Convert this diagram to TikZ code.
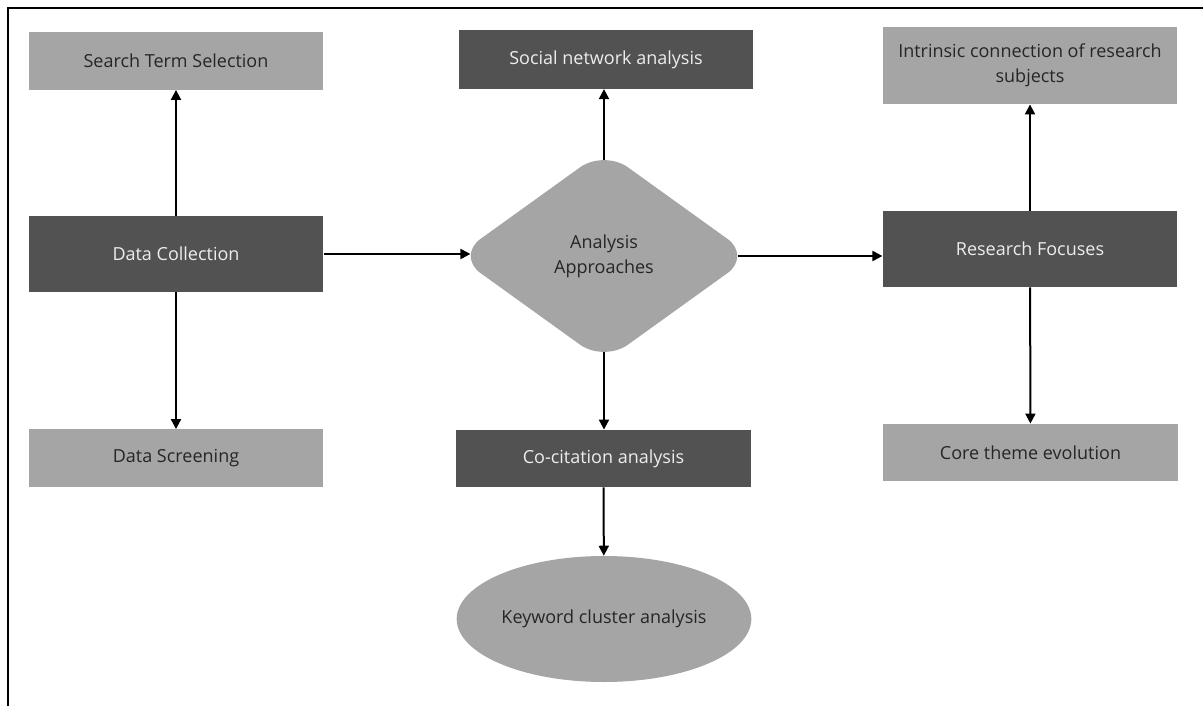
\documentclass[tikz,border=0pt]{standalone}
\usepackage{fontspec}
\setmainfont{Open Sans}
\usepackage{xcolor}
\usetikzlibrary{shapes.geometric,arrows.meta}
\definecolor{darkbox}{HTML}{525252}
\definecolor{lightbox}{HTML}{A5A5A5}

\begin{document}
\begin{tikzpicture}[x=0.75pt,y=-0.75pt,
  lightstep/.style={fill=lightbox,text=black!85,minimum width=221pt,minimum height=43pt,inner sep=0pt,align=center,font=\fontsize{13.5}{19}\selectfont},
  darkstep/.style={lightstep,fill=darkbox,text=white!93!black},
  link/.style={line width=1.5pt,-{Triangle[length=7.5pt,width=7.5pt]}}]
  \useasboundingbox (0,0) rectangle (1203,706);
  \draw[line width=1.8pt] (8,706) -- (8,8) -- (1203,8);
  \node[lightstep] (sts) at (176,61) {Search Term Selection};
  \node[darkstep,minimum height=57pt] (dc) at (176,254) {Data Collection};
  \node[lightstep] (ds) at (176,458) {Data Screening};
  \node[darkstep,minimum height=44pt] (sna) at (606,59.5) {Social network analysis};
  \node[lightstep,diamond,rounded corners=22pt,minimum width=221pt,minimum height=159pt] (aa) at (604,256) {Analysis\\Approaches};
  \node[darkstep] (cca) at (603.5,458.5) {Co-citation analysis};
  \node[lightstep,ellipse,minimum height=94.5pt] (kca) at (604,619) {Keyword cluster analysis};
  \node[lightstep,minimum height=58pt] (icr) at (1030,65.5) {Intrinsic connection of research\\subjects};
  \node[darkstep,minimum height=57pt] (rf) at (1030,249) {Research Focuses};
  \node[lightstep] (cte) at (1030.5,452.5) {Core theme evolution};
  \draw[link] (dc) -- (sts);
  \draw[link] (dc) -- (ds);
  \draw[link,shorten >=-10.5pt] (dc.east) -- (dc.east -| aa.west);
  \draw[link,shorten <=-7.5pt] (aa.north) -- (aa.north |- sna.south);
  \draw[link,shorten <=-7.5pt] (aa.south) -- (aa.south |- cca.north);
  \draw[link] (cca) -- (kca);
  \draw[link,shorten <=-10.5pt] (aa.east) -- (aa.east -| rf.west);
  \draw[link] (rf) -- (icr);
  \draw[link] (rf) -- (cte);
\end{tikzpicture}
\end{document}
